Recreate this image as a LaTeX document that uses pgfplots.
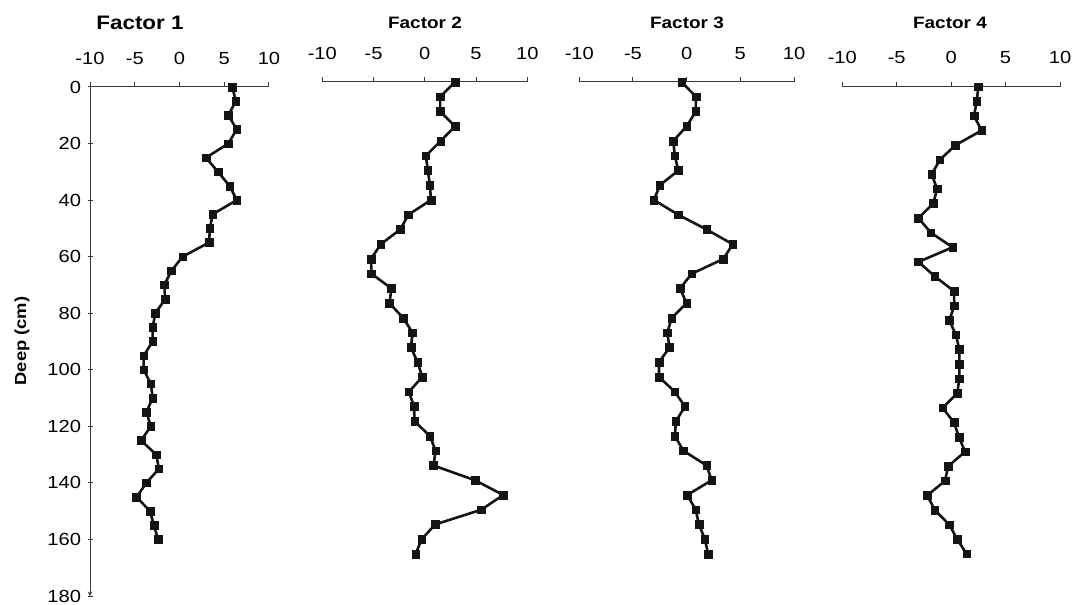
\documentclass[border=0pt]{standalone}
\usepackage{fontspec}
\setmainfont{Liberation Sans}[FakeStretch=1.15]
\usepackage{pgfplots}
\pgfplotsset{compat=1.18}
\definecolor{ink}{HTML}{141414}
\definecolor{axc}{HTML}{3A3A3A}
\pgfplotsset{
  fac/.style={
    scale only axis, y dir=reverse, xmin=-10, xmax=10, ymin=0,
    xtick={-10,-5,0,5,10}, xticklabels={-10,-5,0,5,10},
    axis x line=top, tick align=outside,
    axis line style={-, draw=axc, line width=1pt},
    every outer y axis line/.append style={-},
    every outer x axis line/.append style={-},
    major tick length=5pt, tick style={draw=axc, line width=1pt},
    xticklabel style={font=\fontsize{17.5}{19}\selectfont, yshift=14pt},
    yticklabel style={font=\fontsize{17.5}{19}\selectfont, xshift=-3pt},
    clip=false,
  },
  ser/.style={color=ink, line width=2.6pt, mark=square*, mark size=3.8pt,
    mark options={line width=0.5pt}},
}
\begin{document}
\begin{tikzpicture}
\useasboundingbox (0pt,0pt) rectangle (1074pt,605pt);
% Factor 1
\begin{axis}[fac, at={(90pt,518pt)}, anchor=north west, width=179pt, height=509pt,
  ymax=180, axis y line=left, ytick={0,20,40,60,80,100,120,140,160,180},
  yticklabels={0,20,40,60,80,100,120,140,160,180}]
\addplot[ser] coordinates {
(5.9,0) (6.3,5) (5.45,10) (6.4,15) (5.45,20) (2.96,25) (4.3,30) (5.6,35) (6.4,40)
(3.7,45) (3.4,50) (3.3,55) (0.35,60) (-0.9,65) (-1.7,70) (-1.6,75) (-2.7,80)
(-3.0,85) (-3.0,90) (-4.0,95) (-4.0,100) (-3.2,105) (-3.0,110) (-3.7,115)
(-3.2,120) (-4.3,125) (-2.6,130) (-2.3,135) (-3.7,140) (-4.8,145) (-3.3,150)
(-2.85,155) (-2.4,160)};
\end{axis}
% Factor 2
\begin{axis}[fac, at={(322.3pt,523pt)}, anchor=north west, width=205pt, height=501.5pt,
  ymax=170, axis y line=none]
\addplot[ser] coordinates {
(2.95,0) (1.5,5) (1.5,10) (2.95,15) (1.55,20) (0.1,25) (0.3,30) (0.5,35) (0.6,40)
(-1.6,45) (-2.4,50) (-4.3,55) (-5.25,60) (-5.2,65) (-3.25,70) (-3.45,75) (-2.1,80)
(-1.2,85) (-1.35,90) (-0.7,95) (-0.25,100) (-1.55,105) (-1.05,110) (-1.0,115)
(0.5,120) (1.05,125) (0.85,130) (4.9,135) (7.65,140) (5.5,145) (1.0,150)
(-0.3,155) (-0.9,160)};
\end{axis}
% Factor 3
\begin{axis}[fac, at={(579.3pt,523pt)}, anchor=north west, width=214.7pt, height=501.5pt,
  ymax=170, axis y line=none]
\addplot[ser] coordinates {
(-0.47,0) (0.87,5) (0.85,10) (0.0,15) (-1.25,20) (-1.1,25) (-0.78,30) (-2.5,35)
(-3.05,40) (-0.78,45) (1.86,50) (4.29,55) (3.41,60) (0.47,65) (-0.62,70) (0.0,75)
(-1.4,80) (-1.8,85) (-1.6,90) (-2.58,95) (-2.58,100) (-1.1,105) (-0.16,110)
(-1.0,115) (-1.1,120) (-0.3,125) (1.86,130) (2.33,135) (0.06,140) (0.84,145)
(1.15,150) (1.7,155) (2.0,160)};
\end{axis}
% Factor 4
\begin{axis}[fac, at={(842.3pt,518.3pt)}, anchor=north west, width=217.7pt, height=496.4pt,
  ymax=170, axis y line=none]
\addplot[ser] coordinates {
(2.5,0) (2.35,5) (2.1,10) (2.8,15) (0.4,20) (-1.03,25) (-1.8,30) (-1.28,35)
(-1.65,40) (-3.0,45) (-1.86,50) (0.13,55) (-3.0,60) (-1.49,65) (0.26,70) (0.29,75)
(-0.17,80) (0.44,85) (0.75,90) (0.75,95) (0.75,100) (0.56,105) (-0.78,110)
(0.26,115) (0.72,120) (1.27,125) (-0.27,130) (-0.57,135) (-2.2,140) (-1.49,145)
(-0.17,150) (0.56,155) (1.42,160)};
\end{axis}
% titles and label
\node[font=\fontsize{19.5}{22}\selectfont\bfseries] at (140pt,582pt) {Factor 1};
\node[font=\fontsize{16.5}{19}\selectfont\bfseries] at (425pt,582pt) {Factor 2};
\node[font=\fontsize{16.5}{19}\selectfont\bfseries] at (687pt,582pt) {Factor 3};
\node[font=\fontsize{16.5}{19}\selectfont\bfseries] at (950pt,582pt) {Factor 4};
\node[font=\fontsize{16}{18}\selectfont\bfseries, rotate=90] at (22pt,264pt) {Deep (cm)};
\end{tikzpicture}
\end{document}
